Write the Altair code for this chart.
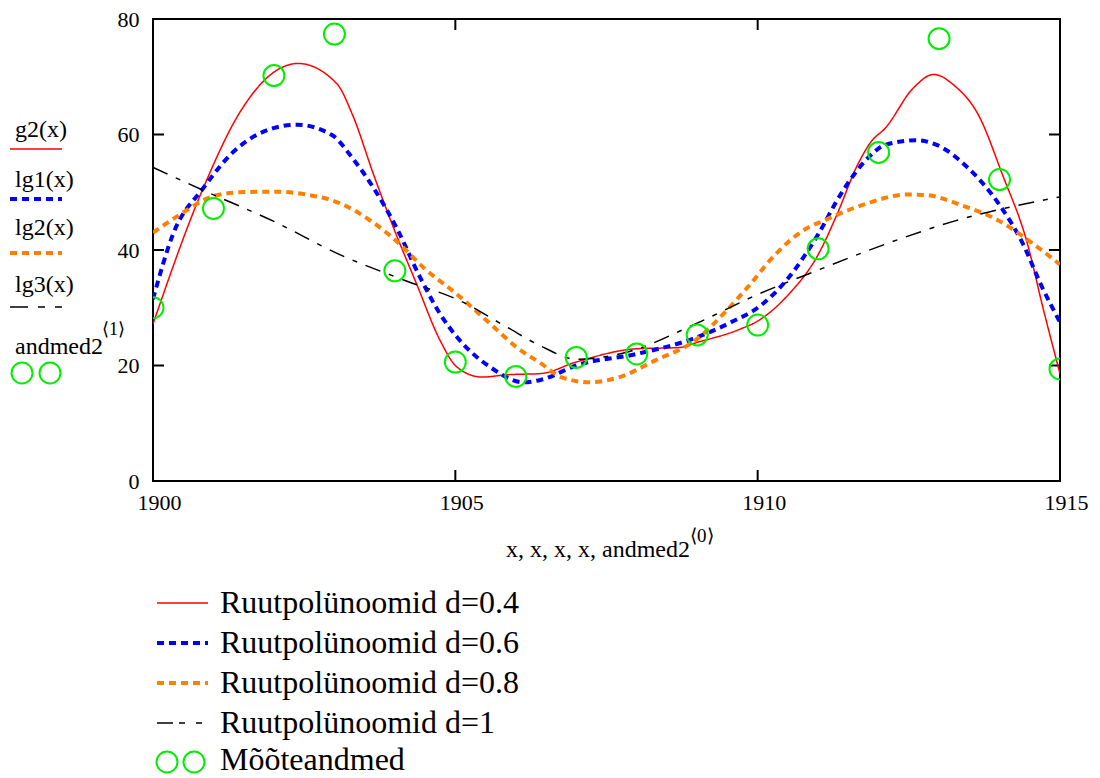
import altair as alt
import pandas as pd

# ---- data ----
meas_years = list(range(1900, 1916))
meas_vals = [30.0, 47.2, 70.2, 77.4, 36.4, 20.6, 18.1, 21.4, 22.0, 25.3, 27.0, 40.2, 56.9, 76.6, 52.2, 19.4]

g2_x = [1900, 1900.83, 1901.44, 1902.0, 1902.4, 1903.04, 1903.3, 1903.65, 1903.98, 1904.36, 1904.75,
        1905.03, 1905.44, 1905.86, 1906.41, 1907, 1908, 1908.69, 1909, 1909.71, 1910, 1910.51, 1911,
        1911.31, 1911.65, 1911.88, 1912.11, 1912.57, 1912.91, 1913.25, 1913.65, 1914.05, 1914.45, 1914.73, 1915]
g2_y = [27.2, 50.7, 63.9, 70.8, 72.3, 68.8, 63.4, 53.0, 43.8, 34.1, 24.3,
        19.7, 18.0, 18.4, 18.6, 20.6, 22.9, 23.1, 24.0, 26.3, 27.7, 32.3, 39.2,
        46.1, 54.7, 58.8, 61.1, 68.0, 70.4, 68.5, 63.4, 53.0, 41.5, 29.5, 18.6]

lg1_x = [1900, 1900.33, 1900.83, 1901.33, 1901.99, 1902.38, 1902.96, 1903.3, 1903.65, 1904.03, 1904.42,
         1904.75, 1905.03, 1905.58, 1906.13, 1906.41, 1907, 1908, 1909, 1909.6, 1910, 1910.51, 1911,
         1911.37, 1911.82, 1912.11, 1912.62, 1912.96, 1913.48, 1914, 1914.39, 1914.68, 1915]
lg1_y = [31.5, 42.7, 50.7, 57.0, 61.1, 61.7, 59.9, 55.9, 50.7, 43.8, 35.2,
         28.9, 24.9, 19.7, 17.1, 17.5, 20.0, 22.0, 24.9, 27.7, 30.0, 35.2, 42.7,
         49.6, 55.9, 58.2, 59.0, 58.2, 54.2, 47.8, 41.0, 34.1, 27.5]

lg2_x = [1900, 1900.44, 1900.99, 1901.44, 1901.99, 1902.54, 1903.09, 1903.65, 1904.03, 1904.48, 1905.03,
         1905.58, 1906.02, 1906.41, 1906.75, 1907.21, 1907.72, 1908.29, 1909, 1909.43, 1909.83, 1910.29,
         1910.74, 1911.14, 1911.82, 1912.45, 1912.79, 1913.36, 1914, 1914.5, 1915]
lg2_y = [43.0, 46.1, 49.3, 50.0, 50.1, 49.6, 48.1, 44.7, 41.5, 36.9, 32.3,
         27.2, 23.1, 20.4, 18.0, 17.1, 18.0, 20.8, 24.6, 28.9, 33.5, 39.2,
         43.3, 45.3, 48.1, 49.6, 49.5, 47.8, 45.0, 41.5, 37.5]

lg3_x = [1900, 1900.88, 1901.99, 1903.09, 1904.2, 1905.08, 1905.86, 1906.41, 1907, 1907.83, 1908.97,
         1910, 1910.97, 1912.11, 1913.25, 1915]
lg3_y = [54.3, 50.1, 45.0, 39.2, 34.6, 31.2, 26.6, 23.4, 21.1, 22.3, 27.2,
         32.3, 36.4, 41.0, 45.0, 49.2]

x_ticks = [1900, 1905, 1910, 1915]
y_ticks = [0, 20, 40, 60, 80]

legend_labels = ["Ruutpolünoomid d=0.4", "Ruutpolünoomid d=0.6", "Ruutpolünoomid d=0.8",
                 "Ruutpolünoomid d=1", "Mõõteandmed"]
left_labels = ["g2(x)", "lg1(x)", "lg2(x)", "lg3(x)"]

# ---- layout / styling ----
LEFT, TOP, BOTTOM, RIGHT = 153, 19, 481, 1060
W, H = RIGHT - LEFT, BOTTOM - TOP
CANVAS_H = 770
SERIF = "Liberation Serif"
RED, BLUE, ORANGE, BLACK, GREEN = "#ff0000", "#0000ff", "#ff8000", "#000000", "#00ee00"
styles = [
    dict(color=RED, strokeWidth=1.5, strokeDash=[1, 0]),
    dict(color=BLUE, strokeWidth=4, strokeDash=[7, 5]),
    dict(color=ORANGE, strokeWidth=4, strokeDash=[7, 5]),
    dict(color=BLACK, strokeWidth=1.5, strokeDash=[16, 9, 5, 9]),
]
legend_dash_black_left = [18, 10, 7, 10, 7, 100]
legend_dash_black_bottom = [16, 6, 6, 11, 6, 100]


def ax(v):
    return v - LEFT


def ay(v):
    return v - TOP


xs = alt.Scale(domain=[1900, 1915], nice=False, zero=False)
ys = alt.Scale(domain=[0, 80], nice=False)

one = pd.DataFrame({"k": [0]})
layers = []

axis_df = pd.DataFrame({"x": [1900, 1915], "y": [0, 80]})
layers.append(
    alt.Chart(axis_df).mark_point(opacity=0).encode(
        x=alt.X("x:Q", scale=xs, axis=alt.Axis(values=x_ticks, ticks=False, domain=False, grid=False,
                                                 labelFont=SERIF, labelFontSize=22, labelColor="black",
                                                 labelPadding=11, labelOffset=6, labelFlush=False,
                                                 title=None, format="d")),
        y=alt.Y("y:Q", scale=ys, axis=alt.Axis(values=y_ticks, ticks=False, domain=False, grid=False,
                                                 labelFont=SERIF, labelFontSize=22, labelColor="black",
                                                 labelPadding=14, labelFlush=False, title=None)),
    )
)

# inner ticks on all four sides
xt = pd.DataFrame({"t": x_ticks[1:-1]})
yt = pd.DataFrame({"t": y_ticks[1:-1]})
for y0, y1 in [(H, H - 11), (0, 11)]:
    layers.append(alt.Chart(xt).mark_rule(color="black", strokeWidth=2).encode(
        x=alt.X("t:Q", scale=xs), y=alt.value(y0), y2=alt.value(y1)))
for x0, x1 in [(0, 11), (W, W - 11)]:
    layers.append(alt.Chart(yt).mark_rule(color="black", strokeWidth=2).encode(
        y=alt.Y("t:Q", scale=ys), x=alt.value(x0), x2=alt.value(x1)))

# curves
for (cx, cy), st in zip([(g2_x, g2_y), (lg1_x, lg1_y), (lg2_x, lg2_y), (lg3_x, lg3_y)], styles):
    df = pd.DataFrame({"x": cx, "y": cy})
    layers.append(alt.Chart(df).mark_line(interpolate="monotone", clip=True, strokeCap="butt", **st).encode(
        x=alt.X("x:Q", scale=xs), y=alt.Y("y:Q", scale=ys)))

# measurements
mdf = pd.DataFrame({"x": meas_years, "y": meas_vals})
layers.append(alt.Chart(mdf).mark_point(shape="circle", filled=False, color=GREEN, size=440,
                                        strokeWidth=2, clip=True, opacity=1).encode(
    x=alt.X("x:Q", scale=xs), y=alt.Y("y:Q", scale=ys)))


def text(t, x, y, size, align="left"):
    return alt.Chart(one).mark_text(text=t, font=SERIF, fontSize=size, align=align,
                                    baseline="middle", color="black").encode(
        x=alt.value(ax(x)), y=alt.value(ay(y)))


def sample(x0, x1, y, st, dash=None):
    return alt.Chart(one).mark_rule(color=st["color"], strokeWidth=st["strokeWidth"],
                                    strokeDash=dash if dash else st["strokeDash"], strokeCap="butt").encode(
        x=alt.value(ax(x0)), x2=alt.value(ax(x1)), y=alt.value(ay(y)))


def circle(x, y):
    return alt.Chart(one).mark_point(shape="circle", filled=False, color=GREEN, size=440,
                                     strokeWidth=2, opacity=1).encode(x=alt.value(ax(x)), y=alt.value(ay(y)))


# x-axis title with superscript
layers.append(text("x, x, x, x, andmed2", 598, 550, 24, align="center"))
layers.append(text("⟨0⟩", 690, 536, 19))

# left-side legend
for i, (lab, ty, ly, st) in enumerate(zip(left_labels, [130, 180, 228, 285], [149, 199, 253, 307], styles)):
    layers.append(text(lab, 15, ty, 24))
    layers.append(sample(10, 62, ly, st, legend_dash_black_left if i == 3 else None))
layers.append(text("andmed2", 15, 347, 24))
layers.append(text("⟨1⟩", 102, 330, 18))
layers.append(circle(22, 373))
layers.append(circle(50, 373))

# bottom legend
for i, (lab, by, st) in enumerate(zip(legend_labels[:4], [603, 643, 683, 723], styles)):
    layers.append(sample(157, 208, by, st, legend_dash_black_bottom if i == 3 else None))
    layers.append(text(lab, 220, by, 32))
layers.append(circle(167, 762))
layers.append(circle(194, 762))
layers.append(text(legend_labels[4], 220, 760, 32))

chart = alt.layer(*layers).properties(
    width=W, height=H,
    autosize=alt.AutoSizeParams(type="none"),
    padding={"left": LEFT - 8, "top": TOP - 8, "right": 1092 - RIGHT, "bottom": CANVAS_H - (BOTTOM - 8)},
    background="white",
).configure_view(stroke="black", strokeWidth=2)

chart.save("out.html", embed_options={"renderer": "svg", "actions": False})
